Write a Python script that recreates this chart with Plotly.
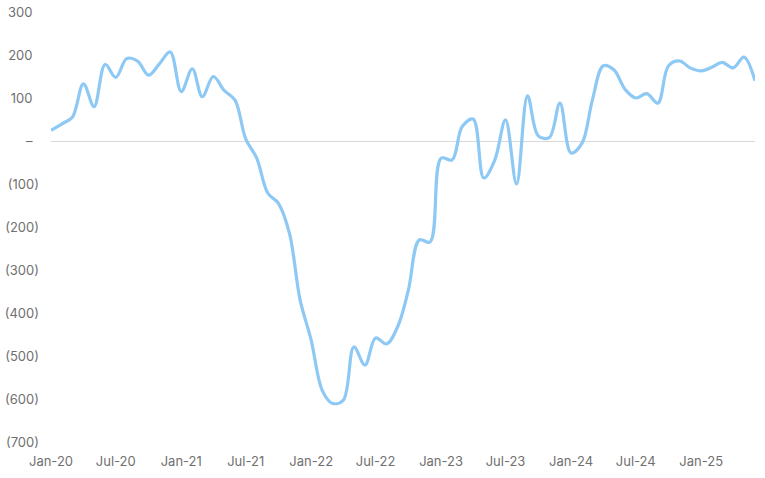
import pandas as pd
import plotly.graph_objects as go

months = pd.date_range("2020-01-01", periods=66, freq="MS")
values = [
    25, 40, 55, 133, 80, 178, 148, 192, 185, 153, 180, 207,
    115, 168, 103, 150, 118, 95, 5, -40, -121, -145, -215, -370,
    -463, -580, -610, -603, -479, -521, -458, -472, -432, -347, -230, -235,
    -40, -44, 33, 51, -86, -44, 49, -100, 105, 12, 8, 88,
    -28, -5, 95, 175, 165, 120, 100, 110, 88, 175, 186, 170,
    163, 172, 183, 170, 195, 140,
]

x_tickvals = ["2020-01-01", "2020-07-01", "2021-01-01", "2021-07-01", "2022-01-01", "2022-07-01",
              "2023-01-01", "2023-07-01", "2024-01-01", "2024-07-01", "2025-01-01"]
x_ticktext = ["Jan-20", "Jul-20", "Jan-21", "Jul-21", "Jan-22", "Jul-22",
              "Jan-23", "Jul-23", "Jan-24", "Jul-24", "Jan-25"]
y_tickvals = [300, 200, 100, 0, -100, -200, -300, -400, -500, -600, -700]
y_ticktext = ["300\u2002", "200\u2002", "100\u2002", "–\u2002", "(100)", "(200)", "(300)",
              "(400)", "(500)", "(600)", "(700)"]

fig = go.Figure()
fig.add_trace(go.Scatter(
    x=months, y=values, mode="lines",
    line=dict(color="#8DC9F4", width=3.2, shape="spline", smoothing=1.0),
    hoverinfo="skip", cliponaxis=False,
))

fig.update_layout(
    width=765, height=478,
    margin=dict(l=51, r=10, t=12, b=36, autoexpand=False),
    paper_bgcolor="white", plot_bgcolor="white",
    showlegend=False,
    font=dict(family="Inter, sans-serif", size=13, color="#707070"),
)
fig.update_xaxes(
    range=["2020-01-01", "2025-06-01"],
    tickvals=x_tickvals, ticktext=x_ticktext,
    showgrid=False, zeroline=False, showline=False, ticks="",
    ticklabelstandoff=10, automargin=False,
)
fig.update_yaxes(
    range=[-700, 300],
    tickvals=y_tickvals, ticktext=y_ticktext,
    showgrid=False, zeroline=True, zerolinecolor="#d9d9d9", zerolinewidth=1,
    showline=False, ticks="",
    ticklabelstandoff=11, automargin=False,
)

fig.write_html("out.html", config={"displayModeBar": False},
               post_script="document.body.style.margin='0';")
